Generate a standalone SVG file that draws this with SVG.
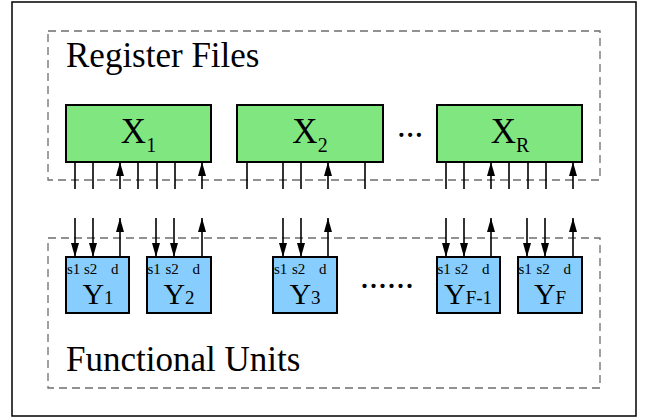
<svg xmlns="http://www.w3.org/2000/svg" width="645" height="420" viewBox="0 0 645 420">
<defs>
<style>
text{font-family:'Liberation Serif','DejaVu Serif',serif;fill:#000}
.rf{fill:#80e680;stroke:#000;stroke-width:2}
.fu{fill:#87ceff;stroke:#000;stroke-width:2}
.dash{fill:none;stroke:#6e6e6e;stroke-width:1.3;stroke-dasharray:8 5}
.c line{stroke:#000;stroke-width:1.6}
.a{marker-end:url(#ah)}
.s{font-size:15px}
.y{font-size:30px}
.sub{font-size:19px}
</style>
<marker id="ah" markerUnits="userSpaceOnUse" markerWidth="15" markerHeight="9" refX="14" refY="4" orient="auto">
<path d="M0,0 L14,4 L0,8 Z" fill="#000"/>
</marker>
</defs>
<rect x="12" y="2" width="624" height="414" fill="#fff" stroke="#000" stroke-width="1.5"/>
<rect class="dash" x="48" y="31" width="552" height="149"/>
<rect class="dash" x="48" y="238" width="552" height="150"/>
<text x="66" y="67" font-size="35">Register Files</text>
<text x="66" y="371" font-size="35">Functional Units</text>

<g id="X1"><rect class="rf" x="66" y="105" width="145" height="57"/>
<text x="138.5" y="143" font-size="35" text-anchor="middle">X<tspan font-size="20" dy="9">1</tspan></text></g>
<g id="X2"><rect class="rf" x="237" y="105" width="146" height="57"/>
<text x="310" y="143" font-size="35" text-anchor="middle">X<tspan font-size="20" dy="9">2</tspan></text></g>
<g id="XR"><rect class="rf" x="437" y="105" width="145" height="57"/>
<text x="510" y="143" font-size="35" text-anchor="middle">X<tspan font-size="20" dy="9">R</tspan></text></g>
<text x="397" y="137" font-size="35">...</text>

<g id="Y1"><rect class="fu" x="66" y="257" width="63" height="56"/>
<text><tspan class="s" x="67" y="274">s1</tspan><tspan class="s" x="84" y="274">s2</tspan><tspan class="s" x="111" y="274">d</tspan><tspan class="y" x="98" y="304" text-anchor="middle">Y<tspan class="sub">1</tspan></tspan></text></g>
<g id="Y2"><rect class="fu" x="147" y="257" width="64" height="56"/>
<text><tspan class="s" x="147.5" y="274">s1</tspan><tspan class="s" x="165.5" y="274">s2</tspan><tspan class="s" x="192.5" y="274">d</tspan><tspan class="y" x="179" y="304" text-anchor="middle">Y<tspan class="sub">2</tspan></tspan></text></g>
<g id="Y3"><rect class="fu" x="273" y="257" width="64" height="56"/>
<text><tspan class="s" x="274" y="274">s1</tspan><tspan class="s" x="292" y="274">s2</tspan><tspan class="s" x="319" y="274">d</tspan><tspan class="y" x="305" y="304" text-anchor="middle">Y<tspan class="sub">3</tspan></tspan></text></g>
<text x="360" y="288" font-size="36">......</text>
<g id="YF-1"><rect class="fu" x="437" y="257" width="63" height="56"/>
<text><tspan class="s" x="437.5" y="274">s1</tspan><tspan class="s" x="455" y="274">s2</tspan><tspan class="s" x="482" y="274">d</tspan><tspan class="y" x="468" y="304" text-anchor="middle">Y<tspan class="sub">F-1</tspan></tspan></text></g>
<g id="YF"><rect class="fu" x="518" y="257" width="64" height="56"/>
<text><tspan class="s" x="518.5" y="274">s1</tspan><tspan class="s" x="536.5" y="274">s2</tspan><tspan class="s" x="563.5" y="274">d</tspan><tspan class="y" x="550" y="304" text-anchor="middle">Y<tspan class="sub">F</tspan></tspan></text></g>

<g id="connectors" class="c">
<line x1="75" y1="162" x2="75" y2="189"/>
<line x1="93" y1="162" x2="93" y2="189"/>
<line class="a" x1="120" y1="189" x2="120" y2="162"/>
<line x1="138" y1="162" x2="138" y2="189"/>
<line x1="157" y1="162" x2="157" y2="189"/>
<line x1="175" y1="162" x2="175" y2="189"/>
<line class="a" x1="202" y1="189" x2="202" y2="162"/>
<line x1="247" y1="162" x2="247" y2="189"/>
<line x1="283" y1="162" x2="283" y2="189"/>
<line x1="301" y1="162" x2="301" y2="189"/>
<line class="a" x1="328" y1="189" x2="328" y2="162"/>
<line x1="365" y1="162" x2="365" y2="189"/>
<line x1="446" y1="162" x2="446" y2="189"/>
<line x1="464" y1="162" x2="464" y2="189"/>
<line class="a" x1="491" y1="189" x2="491" y2="162"/>
<line x1="509" y1="162" x2="509" y2="189"/>
<line x1="528" y1="162" x2="528" y2="189"/>
<line x1="546" y1="162" x2="546" y2="189"/>
<line class="a" x1="573" y1="189" x2="573" y2="162"/>

<line class="a" x1="75" y1="218" x2="75" y2="257"/>
<line class="a" x1="93" y1="218" x2="93" y2="257"/>
<line class="a" x1="120" y1="257" x2="120" y2="218"/>
<line class="a" x1="156" y1="218" x2="156" y2="257"/>
<line class="a" x1="174" y1="218" x2="174" y2="257"/>
<line class="a" x1="202" y1="257" x2="202" y2="218"/>
<line class="a" x1="283" y1="218" x2="283" y2="257"/>
<line class="a" x1="301" y1="218" x2="301" y2="257"/>
<line class="a" x1="328" y1="257" x2="328" y2="218"/>
<line class="a" x1="446" y1="218" x2="446" y2="257"/>
<line class="a" x1="464" y1="218" x2="464" y2="257"/>
<line class="a" x1="491" y1="257" x2="491" y2="218"/>
<line class="a" x1="527" y1="218" x2="527" y2="257"/>
<line class="a" x1="545" y1="218" x2="545" y2="257"/>
<line class="a" x1="573" y1="257" x2="573" y2="218"/>
</g>
</svg>
